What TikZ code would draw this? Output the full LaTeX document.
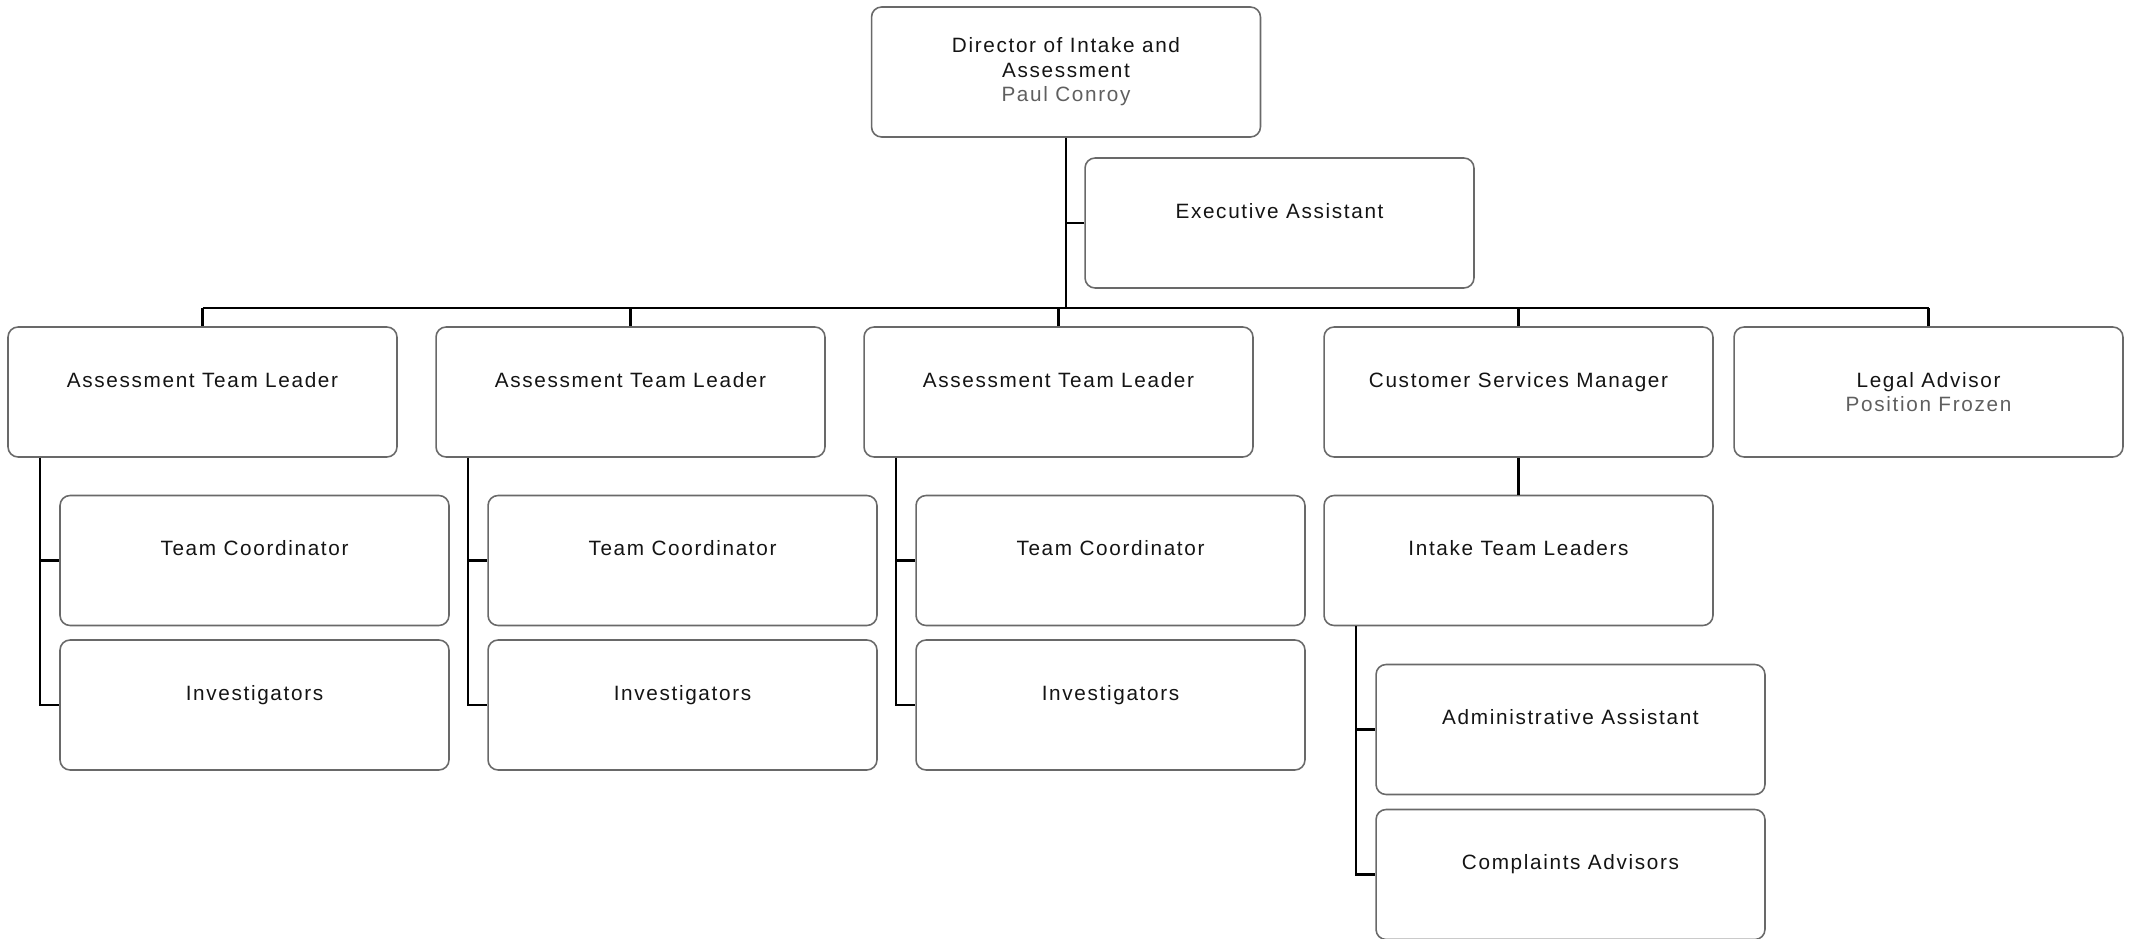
\documentclass[tikz,border=0pt]{standalone}
\usepackage{fontspec}
\usepackage{xcolor}
\usetikzlibrary{positioning}
\newfontfamily\orgfont[LetterSpace=8]{Liberation Sans}
\definecolor{boxline}{RGB}{105,105,105}
\definecolor{titlegray}{RGB}{20,20,20}
\definecolor{namegray}{RGB}{95,95,95}

\begin{document}
\begin{tikzpicture}[x=0.02cm,y=-0.02cm,
    font=\orgfont\fontsize{11.8}{14}\selectfont,
    posbox/.style={draw=boxline, line width=0.9pt, rounded corners=0.2cm,
      minimum width=7.78cm, minimum height=2.6cm, inner sep=0pt,
      align=center, text=titlegray},
    conn/.style={draw=black, line width=1.2pt}]
  \useasboundingbox (0,0) rectangle (2134,939);

  % Direktur dan asisten
  \node[posbox] (dir) at (1066,72) {Director of Intake and\\Assessment\\{\color{namegray}Paul Conroy}};
  \node[posbox] (exec) at (1279.5,223) {Executive Assistant\\~};
  \coordinate (bus) at (0,308);

  \draw[conn] (dir.south) -- (dir.south |- bus);
  \draw[conn] (exec.west) -- (exec.west -| dir.south);

  % Tiga tim penilaian
  \foreach \i/\xx in {1/202.5,2/630.5,3/1058.5} {
    \node[posbox] (atl\i) at (\xx,392) {Assessment Team Leader\\~};
    \node[posbox] (tc\i) at (\xx+52,560.5) {Team Coordinator\\~};
    \node[posbox] (inv\i) at (\xx+52,705) {Investigators\\~};
    \draw[conn] (atl\i.north) -- (atl\i.north |- bus);
    \draw[conn] ([xshift=0.66cm]atl\i.south west) |- (tc\i.west);
    \draw[conn] ([xshift=0.66cm]atl\i.south west) |- (inv\i.west);
  }

  % Layanan pelanggan dan hukum
  \node[posbox] (csm) at (1518.5,392) {Customer Services Manager\\~};
  \node[posbox] (legal) at (1928.5,392) {Legal Advisor\\{\color{namegray}Position Frozen}};
  \node[posbox] (itl) at (1518.5,560.5) {Intake Team Leaders\\~};
  \node[posbox] (admin) at (1570.5,729.5) {Administrative Assistant\\~};
  \node[posbox] (compl) at (1570.5,874.5) {Complaints Advisors\\~};

  \draw[conn] (atl1.north |- bus) -- (legal.north |- bus);
  \draw[conn] (csm.north) -- (csm.north |- bus);
  \draw[conn] (legal.north) -- (legal.north |- bus);
  \draw[conn] (csm.south) -- (itl.north);
  \draw[conn] ([xshift=0.66cm]itl.south west) |- (admin.west);
  \draw[conn] ([xshift=0.66cm]itl.south west) |- (compl.west);
\end{tikzpicture}
\end{document}
